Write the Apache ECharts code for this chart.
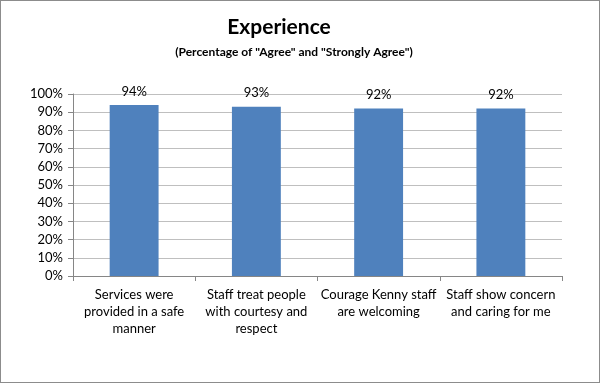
<!DOCTYPE html>
<html>
<head>
<meta charset="utf-8">
<script src="https://cdn.jsdelivr.net/npm/echarts@6/dist/echarts.min.js"></script>
<style>
html,body{margin:0;padding:0;background:#fff;}
#c{width:600px;height:383px;box-sizing:border-box;border:1px solid #8c8c8c;}
</style>
</head>
<body>
<div id="c"></div>
<script>
const titleText = 'Experience';
const subtitleText = '(Percentage of "Agree" and "Strongly Agree")';
const categories = [
  'Services were\nprovided in a safe\nmanner',
  'Staff treat people\nwith courtesy and\nrespect',
  'Courage Kenny staff\nare welcoming',
  'Staff show concern\nand caring for me'
];
const values = [94, 93, 92, 92];
const yTicks = [0, 10, 20, 30, 40, 50, 60, 70, 80, 90, 100];

const font = 'Lato, "Open Sans", sans-serif';
const chart = echarts.init(document.getElementById('c'));
chart.setOption({
  animation: false,
  title: [
    {text: titleText, left: 273, top: 11, textAlign: 'center',
     textStyle: {fontFamily: font, fontWeight: 'bold', fontSize: 21, color: '#000'}},
    {text: subtitleText, left: 288, top: 40, textAlign: 'center',
     textStyle: {fontFamily: font, fontWeight: 'bold', fontSize: 12, color: '#000'}}
  ],
  grid: {left: 72, right: 37, top: 93, bottom: 106, containLabel: false},
  xAxis: {
    type: 'category',
    data: categories,
    axisLine: {lineStyle: {color: '#868686'}},
    axisTick: {show: true, length: 5, lineStyle: {color: '#868686'}},
    axisLabel: {fontFamily: font, fontSize: 13, color: '#000', lineHeight: 17, margin: 10, interval: 0}
  },
  yAxis: {
    type: 'value',
    min: yTicks[0], max: yTicks[yTicks.length - 1], interval: 10,
    axisLine: {show: true, lineStyle: {color: '#868686'}},
    axisTick: {show: true, length: 5, lineStyle: {color: '#868686'}},
    splitLine: {lineStyle: {color: '#bfbfbf'}},
    axisLabel: {fontFamily: font, fontSize: 13, color: '#000', margin: 10, formatter: v => v + '%'}
  },
  series: [{
    type: 'bar',
    data: values,
    barWidth: '40%',
    itemStyle: {color: '#4f81bd'},
    label: {show: true, position: 'top', distance: 7, fontFamily: font, fontSize: 13, color: '#000',
            formatter: p => p.value + '%'}
  }]
});
</script>
</body>
</html>
